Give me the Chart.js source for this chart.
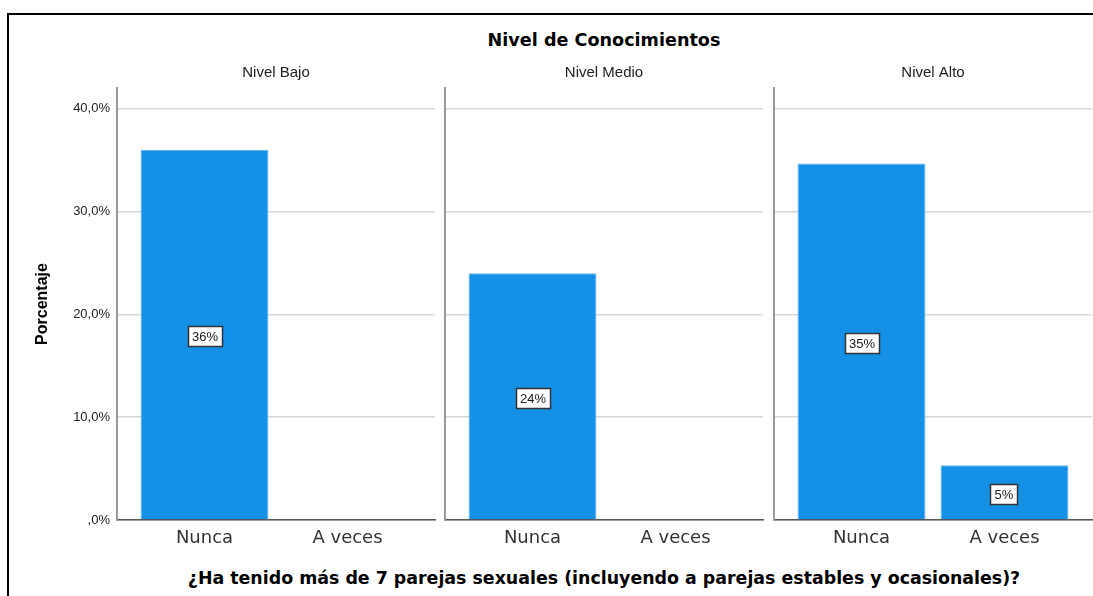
<!DOCTYPE html>
<html>
<head>
<meta charset="utf-8">
<script src="https://cdn.jsdelivr.net/npm/chart.js@4.4.1/dist/chart.umd.min.js"></script>
<style>
html,body{margin:0;padding:0;background:#fff;width:1093px;height:596px;overflow:hidden;position:relative}
#frame{position:absolute;left:7px;top:13px;width:1200px;height:700px;border:2px solid #000;box-sizing:border-box}
canvas{position:absolute;top:0}
.t{position:absolute;white-space:nowrap;transform:translate(-50%,-50%);color:#000;font-family:"DejaVu Sans",sans-serif;font-weight:bold}
</style>
</head>
<body>
<div id="frame"></div>
<div class="t" id="mainTitle" style="left:604px;top:40px;font-size:17.6px"></div>
<div class="t" id="xTitle" style="left:604px;top:578px;font-size:17.4px"></div>
<canvas id="c0" width="445" height="596" style="left:0px"></canvas>
<canvas id="c1" width="330" height="596" style="left:440px"></canvas>
<canvas id="c2" width="324" height="596" style="left:769px"></canvas>
<script>
// ---- data ----
const mainTitle = 'Nivel de Conocimientos';
const xAxisTitle = '¿Ha tenido más de 7 parejas sexuales (incluyendo a parejas estables y ocasionales)?';
const yAxisTitle = 'Porcentaje';
const panelTitles = ['Nivel Bajo', 'Nivel Medio', 'Nivel Alto'];
const categories = ['Nunca', 'A veces'];
const nivelBajo = [36.0, 0];
const nivelMedio = [24.0, 0];
const nivelAlto = [34.67, 5.33];
const yTickValues = [0, 10, 20, 30, 40];
const yTickLabels = [',0%', '10,0%', '20,0%', '30,0%', '40,0%'];

document.getElementById('mainTitle').textContent = mainTitle;
document.getElementById('xTitle').textContent = xAxisTitle;

Chart.defaults.font.family = '"Liberation Sans", Arial, sans-serif';
Chart.defaults.color = '#222';

const barLabels = {
  id: 'barLabels',
  afterDatasetsDraw(chart) {
    const ctx = chart.ctx;
    const meta = chart.getDatasetMeta(0);
    const ds = chart.data.datasets[0];
    ctx.save();
    ctx.font = '13px "Liberation Sans", Arial, sans-serif';
    ctx.textAlign = 'center';
    ctx.textBaseline = 'middle';
    meta.data.forEach((el, i) => {
      const v = ds.data[i].y;
      if (!v) return;
      const txt = Math.round(v) + '%';
      const w = Math.round(ctx.measureText(txt).width + 8), h = 20;
      const cx = Math.round(el.x), cy = Math.round((el.y + el.base) / 2 + 2);
      const x0 = cx - Math.round(w / 2) + 0.5, y0 = cy - h / 2 + 0.5;
      ctx.fillStyle = '#fff';
      ctx.fillRect(x0, y0, w, h);
      ctx.strokeStyle = '#333';
      ctx.lineWidth = 1.5;
      ctx.strokeRect(x0, y0, w, h);
      ctx.fillStyle = '#222';
      ctx.fillText(txt, cx, cy + 1);
    });
    ctx.restore();
  }
};

function makePanel(id, title, values, first, pad) {
  const data = values.map((v, i) => ({ x: i, y: v }));
  return new Chart(document.getElementById(id), {
    type: 'bar',
    data: {
      datasets: [{
        data: data,
        backgroundColor: '#1490e6',
        borderColor: '#62b2ee',
        borderWidth: 1,
        categoryPercentage: 1,
        barPercentage: 0.895
      }]
    },
    options: {
      responsive: false,
      animation: false,
      events: [],
      layout: { padding: pad },
      plugins: {
        legend: { display: false },
        tooltip: { enabled: false },
        title: {
          display: true,
          text: title,
          fullSize: false,
          color: '#222',
          font: { size: 15, weight: 'normal', family: '"Liberation Sans", Arial, sans-serif' },
          padding: { top: 14, bottom: 6 }
        }
      },
      scales: {
        x: {
          type: 'linear',
          offset: false,
          min: -0.612,
          max: 1.612,
          grid: { display: true, drawOnChartArea: false, drawTicks: false, offset: false },
          border: { display: true, color: '#555', width: 1.5 },
          ticks: {
            stepSize: 1,
            includeBounds: false,
            autoSkip: false,
            maxRotation: 0,
            padding: 8,
            color: '#333',
            font: { size: 18, family: '"DejaVu Sans", sans-serif' },
            callback: (v) => categories[v] !== undefined ? categories[v] : ''
          },
          afterFit: (s) => { s.height = 40; }
        },
        y: {
          min: 0,
          max: 42,
          grid: { color: '#d9d9d9', lineWidth: 1.5, drawTicks: false },
          border: { display: true, color: '#999', width: 2 },
          ticks: {
            display: first,
            stepSize: 10,
            includeBounds: false,
            padding: 7,
            color: '#222',
            font: { size: 13 },
            callback: (v) => {
              const k = yTickValues.indexOf(v);
              return k >= 0 ? yTickLabels[k] : '';
            }
          },
          title: {
            display: first,
            text: yAxisTitle,
            color: '#000',
            font: { size: 16, weight: 'bold' },
            padding: { top: 4, bottom: 0 }
          },
          afterFit: (s) => { s.width = first ? 88 : 0; }
        }
      }
    },
    plugins: [barLabels]
  });
}

makePanel('c0', panelTitles[0], nivelBajo, true, { left: 29, right: 10, top: 50, bottom: 36 });
makePanel('c1', panelTitles[1], nivelMedio, false, { left: 5, right: 7, top: 50, bottom: 36 });
makePanel('c2', panelTitles[2], nivelAlto, false, { left: 5, right: 1, top: 50, bottom: 36 });
</script>
</body>
</html>
